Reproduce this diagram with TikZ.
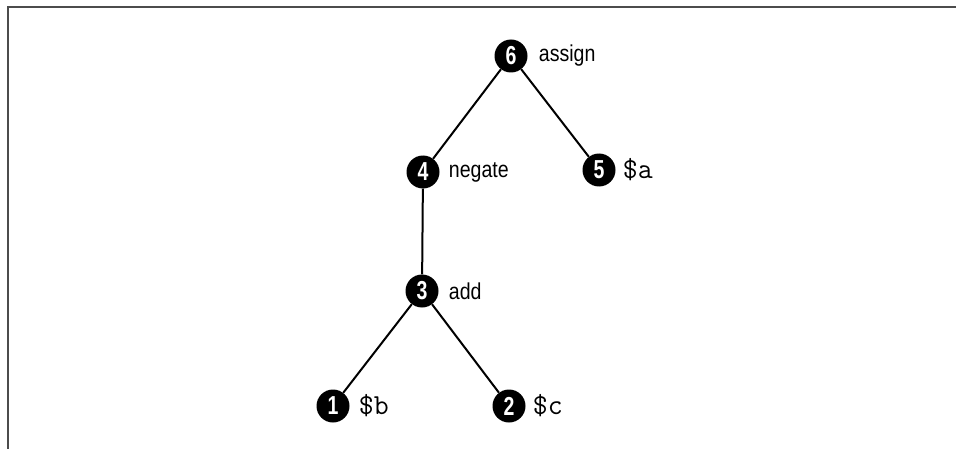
\documentclass[tikz,border=0pt]{standalone}
\usepackage{fontspec}
\setmainfont{Liberation Sans}
\newfontfamily\labfont[FakeStretch=0.85]{Liberation Sans}
\newfontfamily\numfont[FakeStretch=0.75]{Liberation Sans Bold}
\usetikzlibrary{positioning}
\begin{document}
\begin{tikzpicture}[x=1pt,y=-1pt,
  opnode/.style={circle,fill=black,inner sep=0pt,minimum size=33pt,text=white,
    font=\numfont\fontsize{26}{26}\selectfont},
  oplab/.style={anchor=west,inner sep=0pt,font=\labfont\fontsize{23}{23}\selectfont},
  codelab/.style={anchor=west,inner sep=0pt,font=\ttfamily\fontsize{29}{29}\selectfont},
  edge/.style={line width=2pt,black},
  frameline/.style={line width=2pt,black!70}]
\useasboundingbox (0,0) rectangle (957,449);
\coordinate (fa) at (7.5,449);
\coordinate (fb) at (7.5,7);
\coordinate (fc) at (956,7);
\draw[frameline] (fa) -- (fb) -- (fc);
\node[opnode] (n6) at (511,56) {6};
\node[opnode] (n4) at (423,172) {4};
\node[opnode] (n5) at (599,170) {5};
\node[opnode] (n3) at (422,291) {3};
\node[opnode] (n1) at (333,406) {1};
\node[opnode] (n2) at (509,406) {2};
\draw[edge] (n6) -- (n4);
\draw[edge] (n6) -- (n5);
\draw[edge] (n4) -- (n3);
\draw[edge] (n3) -- (n1);
\draw[edge] (n3) -- (n2);
\node[oplab] (l6) at ([xshift=11pt]n6.east) {assign};
\node[oplab] (l4) at ([xshift=9pt]n4.east) {negate};
\node[oplab] (l3) at ([xshift=10pt]n3.east) {add};
\node[codelab] (l5) at ([xshift=7pt]n5.east) {\$a};
\node[codelab] (l1) at ([xshift=9pt]n1.east) {\$b};
\node[codelab] (l2) at ([xshift=7pt]n2.east) {\$c};
\end{tikzpicture}
\end{document}
